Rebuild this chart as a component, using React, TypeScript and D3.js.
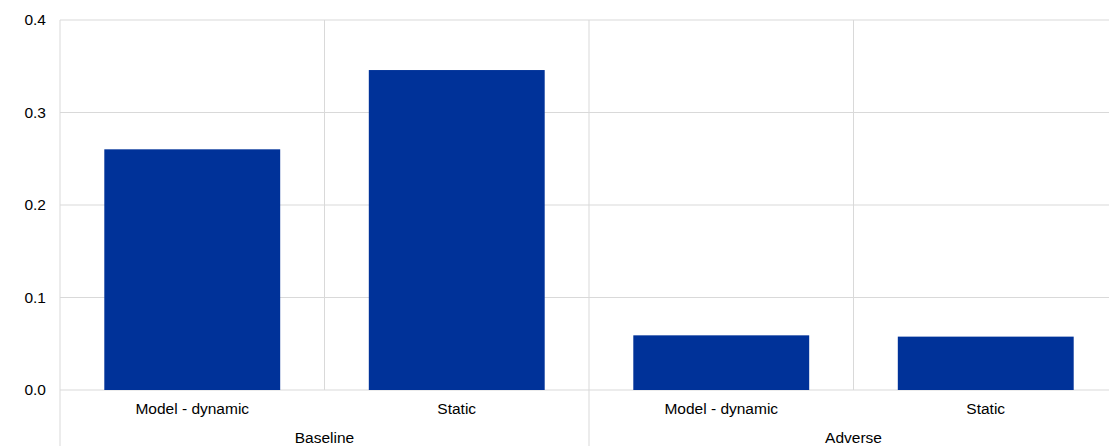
import React from "react";
import * as d3 from "d3";

const categories = ["Model - dynamic", "Static", "Model - dynamic", "Static"];
const groups = ["Baseline", "Adverse"];
const values = [0.2602, 0.3459, 0.0591, 0.0577];
const yTicks = [0, 0.1, 0.2, 0.3, 0.4];

const W = 1109;
const H = 446;
const left = 60;
const right = 1118;
const top = 20;
const bottom = 390;

export default function App() {
  const x = d3.scaleBand<number>().domain(d3.range(categories.length)).range([left, right]).paddingInner(0.335).paddingOuter(0.1675);
  const step = x.step();
  const y = d3.scaleLinear().domain([0, 0.4]).range([bottom, top]);
  const font = "Arial, 'Liberation Sans', sans-serif";
  const grid = "#d9d9d9";
  const groupSize = categories.length / groups.length;
  const fs = 15.5;
  return (
    <svg width={W} height={H} style={{ position: "absolute", left: 0, top: 0, display: "block" }} fontFamily={font}>
      <rect x={0} y={0} width={W} height={H} fill="#fff" />
      {yTicks.map((t) => (
        <g key={t}>
          <line x1={left} x2={right} y1={y(t)} y2={y(t)} stroke={grid} strokeWidth={1} />
          <text x={46} y={y(t) + 5} textAnchor="end" fontSize={fs} fill="#000">{t.toFixed(1)}</text>
        </g>
      ))}
      {categories.map((_, i) => {
        const xl = left + i * step;
        const isGroupEdge = i % groupSize === 0;
        return (
          <line key={"v" + i} x1={xl} x2={xl} y1={top} y2={isGroupEdge ? H : bottom} stroke={grid} strokeWidth={1} />
        );
      })}
      {values.map((v, i) => (
        <rect key={"b" + i} x={x(i)} y={y(v)} width={x.bandwidth()} height={y(0) - y(v)} fill="#003299" />
      ))}
      {categories.map((c, i) => (
        <text key={"c" + i} x={(x(i) as number) + x.bandwidth() / 2} y={414} textAnchor="middle" fontSize={fs} fill="#000">{c}</text>
      ))}
      {groups.map((g, gi) => (
        <text key={g} x={left + (gi + 0.5) * groupSize * step} y={443} textAnchor="middle" fontSize={fs} fill="#000">{g}</text>
      ))}
    </svg>
  );
}
